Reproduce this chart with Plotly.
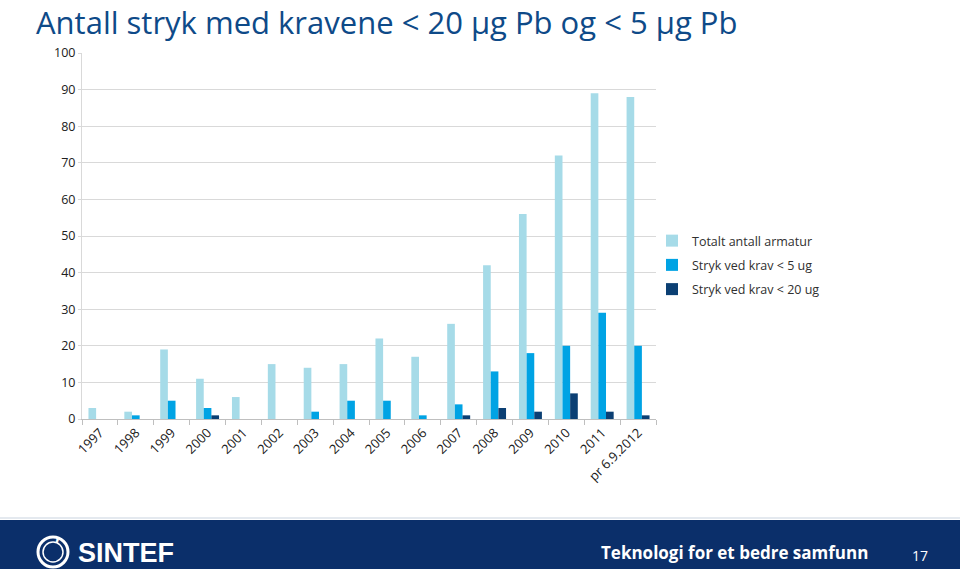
import plotly.graph_objects as go

categories = ["1997", "1998", "1999", "2000", "2001", "2002", "2003", "2004",
              "2005", "2006", "2007", "2008", "2009", "2010", "2011", "pr 6.9.2012"]
totalt = [3, 2, 19, 11, 6, 15, 14, 15, 22, 17, 26, 42, 56, 72, 89, 88]
krav5 = [0, 1, 5, 3, 0, 0, 2, 5, 5, 1, 4, 13, 18, 20, 29, 20]
krav20 = [0, 0, 0, 1, 0, 0, 0, 0, 0, 0, 1, 3, 2, 7, 2, 1]
series_names = ["Totalt antall armatur", "Stryk ved krav < 5 ug", "Stryk ved krav < 20 ug"]
colors = ["#A6DBE8", "#00A3E4", "#0B3F73"]

W, H = 960, 569
L, R, T, B = 82, 656, 53, 419


def px(x):
    return (x - L) / (R - L)


def py(y):
    return (B - y) / (B - T)


FONT = "Open Sans, Liberation Sans, sans-serif"

fig = go.Figure()
for i, (name, vals) in enumerate(zip(series_names, [totalt, krav5, krav20])):
    fig.add_trace(go.Bar(x=categories, y=vals, name=name, marker_color=colors[i],
                         marker_line_width=0, legendgroup=str(i)))

fig.update_layout(
    width=W, height=H,
    margin=dict(l=L, r=W - R, t=T, b=H - B, pad=0),
    paper_bgcolor="white", plot_bgcolor="white",
    barmode="group", bargap=0.36, bargroupgap=0,
    font=dict(family=FONT, size=12, color="#404040"),
    showlegend=True,
    legend=dict(x=px(652), y=py(226), xanchor="left", yanchor="top",
                font=dict(size=12.5, color="#303030"), tracegroupgap=5,
                bgcolor="rgba(0,0,0,0)", itemclick=False),
    xaxis=dict(type="category", tickangle=-45, showline=True, linecolor="#BFBFBF",
               ticks="outside", tickson="boundaries", ticklen=5, tickcolor="#BFBFBF",
               showgrid=False, tickfont=dict(size=13, color="#202020")),
    yaxis=dict(range=[0, 100], dtick=10, showline=True, linecolor="#D9D9D9",
               ticks="outside", ticklen=3, tickcolor="#D9D9D9",
               gridcolor="#D9D9D9", gridwidth=1, zeroline=False,
               tickfont=dict(size=12.5, color="#202020")),
)

# title
fig.add_annotation(x=px(35), y=py(0), xref="paper", yref="paper", xanchor="left", yanchor="top",
                   text="Antall stryk med kravene < 20 µg Pb og < 5 µg Pb", showarrow=False,
                   font=dict(family=FONT, size=31, color="#0E4A88"), borderpad=0)

# footer band
fig.add_shape(type="rect", xref="paper", yref="paper", x0=px(0), x1=px(W), y0=py(520), y1=py(H + 2),
              fillcolor="#0B2F6A", line_width=0, layer="below")
fig.add_shape(type="line", xref="paper", yref="paper", x0=px(0), x1=px(W), y0=py(518), y1=py(518),
              line=dict(color="#C9D3DF", width=1))
# logo circle
fig.add_shape(type="circle", xref="paper", yref="paper", x0=px(38), x1=px(68), y0=py(537), y1=py(567),
              line=dict(color="white", width=3))
fig.add_shape(type="circle", xref="paper", yref="paper", x0=px(43), x1=px(63), y0=py(542), y1=py(562),
              line=dict(color="white", width=1.5))
fig.add_annotation(x=px(53), y=py(552), xref="paper", yref="paper", text="<b>,</b>", showarrow=False,
                   font=dict(family=FONT, size=18, color="white"), yshift=4)
fig.add_annotation(x=px(76), y=py(553), xref="paper", yref="paper", xanchor="left", yanchor="middle",
                   text="<b>SINTEF</b>", showarrow=False,
                   font=dict(family="Liberation Sans, sans-serif", size=27, color="white"))
fig.add_annotation(x=px(870), y=py(552), xref="paper", yref="paper", xanchor="right", yanchor="middle",
                   text="<b>Teknologi for et bedre samfunn</b>", showarrow=False,
                   font=dict(family=FONT, size=17, color="white"))
fig.add_annotation(x=px(920), y=py(555), xref="paper", yref="paper", xanchor="center", yanchor="middle",
                   text="17", showarrow=False,
                   font=dict(family=FONT, size=14, color="white"))

fig.write_html("out.html")
